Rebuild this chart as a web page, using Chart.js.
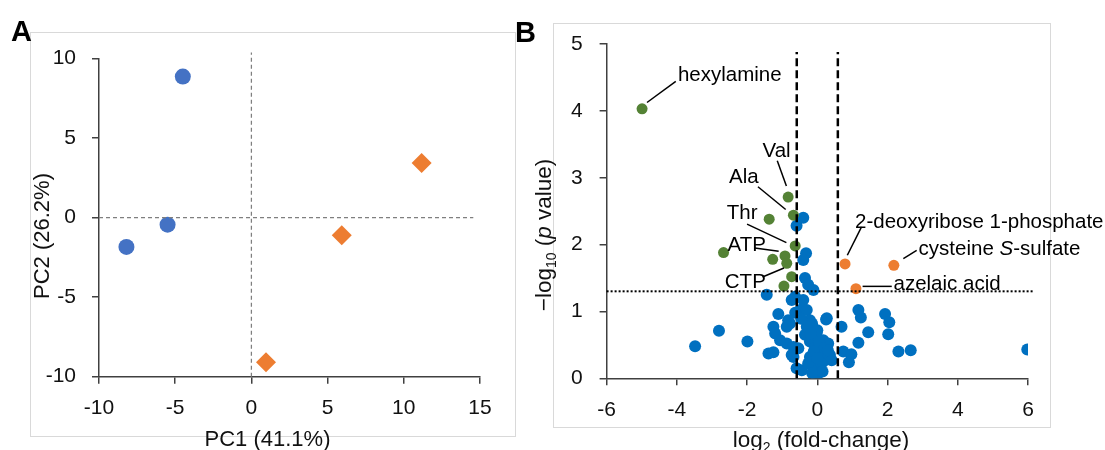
<!DOCTYPE html>
<html>
<head>
<meta charset="utf-8">
<script src="https://cdn.jsdelivr.net/npm/chart.js@4.4.1/dist/chart.umd.min.js"></script>
<style>
html, body { margin: 0; padding: 0; background: #fff; }
body { width: 1105px; height: 450px; position: relative; overflow: hidden; }
canvas { position: absolute; top: 0; }
#pcaCanvas { left: 0; }
#volcanoCanvas { left: 500px; }
</style>
</head>
<body>
<canvas id="pcaCanvas" width="545" height="450"></canvas>
<canvas id="volcanoCanvas" width="605" height="450"></canvas>
<script>
// ---- Panel A: PCA scores ----
const pcaXTicks = [-10, -5, 0, 5, 10, 15];
const pcaYTicks = [-10, -5, 0, 5, 10];
const ctrlPC1 = [-4.5, -5.5, -8.2];
const ctrlPC2 = [8.85, -0.45, -1.85];
const treatPC1 = [11.17, 5.93, 0.96];
const treatPC2 = [3.42, -1.12, -9.1];
// dashed zero lines
const pcaVLineX = [0, 0];
const pcaVLineY = [-10, 10.37];
const pcaHLineX = [-10, 14.56];
const pcaHLineY = [0, 0];

// ---- Panel B: volcano plot ----
const volXTicks = [-6, -4, -2, 0, 2, 4, 6];
const volYTicks = [0, 1, 2, 3, 4, 5];
const blueFC = [-0.40, -0.59, -0.32, -0.40, -0.35, -0.26, -0.11, -1.44, -0.63, -0.73, -0.40, -0.49, -0.30, -1.11, -0.63,
    0.27, -0.21, -0.83, -0.78, -0.87, -1.25, 0.69, -0.11, -2.80, -1.20, -0.02, -0.35, 0.17, -1.06, -0.21, -1.99, 0.31,
    -0.87, 1.17, -0.54, -0.06, -0.68, -3.48, 0.08, -1.39, -1.25, 0.36, -0.68, -0.21, 0.22, 0.41, 0.74, 0.97, 0.90,
    -0.73, -0.59, -0.44, -0.06, -0.02, 0.12, -0.26, 1.17, 1.24, 1.45, 1.93, 2.05, 2.02, 2.31, 2.66, 5.98,
    0.05, 0.20, -0.10, 0.15, -0.15, 0.30, 0.00, 0.00, 0.25, -0.15, -0.30, -0.19, -0.46];
const blueP = [2.40, 2.28, 1.87, 1.77, 1.50, 1.40, 1.32, 1.25, 1.22, 1.17, 1.17, 1.02, 1.02, 0.96, 0.98,
    0.90, 0.87, 0.87, 0.82, 0.77, 0.77, 0.77, 0.75, 0.71, 0.67, 0.67, 0.65, 0.57, 0.57, 0.55, 0.55, 0.52,
    0.52, 0.53, 0.45, 0.47, 0.47, 0.48, 0.40, 0.37, 0.39, 0.35, 0.32, 0.32, 0.27, 0.27, 0.40, 0.36, 0.24,
    0.35, 0.15, 0.12, 0.15, 0.02, 0.22, 0.22, 1.02, 0.91, 0.69, 0.96, 0.84, 0.66, 0.40, 0.42, 0.43,
    0.55, 0.45, 0.40, 0.10, 0.08, 0.42, 0.30, 0.72, 0.88, 0.82, 0.77, 0.67, 0.89];
const downFC = [-4.99, -0.83, -0.68, -1.37, -0.63, -2.67, -0.92, -1.27, -0.87, -0.73, -0.95];
const downP = [4.03, 2.71, 2.44, 2.38, 1.98, 1.88, 1.83, 1.78, 1.72, 1.52, 1.38];
const upFC = [0.79, 2.18, 1.10];
const upP = [1.71, 1.69, 1.34];
// cut-offs: 1.5-fold change and p = 0.05
const fcCutLeftX = [-0.585, -0.585];
const fcCutRightX = [0.585, 0.585];
const fcCutY = [0, 4.88];
const pCutX = [-6, 6.15];
const pCutY = [1.301, 1.301];

const FONT = '"Liberation Sans", Arial, sans-serif';
const pts = (xs, ys) => xs.map((x, i) => ({ x: x, y: ys[i] }));

// labels on the volcano plot (text anchor and leader line in data units)
const volcanoNotes = [
    { parts: [{ t: 'hexylamine' }], at: [-3.97, 4.525], align: 'left', line: [-4.85, 4.125, -4.03, 4.44] },
    { parts: [{ t: 'Val' }], at: [-1.16, 3.39], align: 'center', line: [-1.14, 3.255, -0.88, 2.875] },
    { parts: [{ t: 'Ala' }], at: [-2.09, 3.005], align: 'center', line: [-1.69, 2.865, -0.90, 2.525] },
    { parts: [{ t: 'Thr' }], at: [-2.14, 2.465], align: 'center', line: [-2.0, 2.305, -0.88, 2.03] },
    { parts: [{ t: 'ATP' }], at: [-2.01, 1.99], align: 'center', line: [-1.78, 1.95, -1.10, 1.90] },
    { parts: [{ t: 'CTP' }], at: [-2.05, 1.44], align: 'center', line: [-1.56, 1.515, -0.95, 1.65] },
    { parts: [{ t: '2-deoxyribose 1-phosphate' }], at: [1.075, 2.34], align: 'left', line: [1.26, 2.265, 0.855, 1.84] },
    { parts: [{ t: 'cysteine ' }, { t: 'S', i: true }, { t: '-sulfate' }], at: [2.885, 1.925], align: 'left', line: [2.83, 1.915, 2.45, 1.79] },
    { parts: [{ t: 'azelaic acid' }], at: [2.17, 1.40], align: 'left', line: [1.29, 1.375, 2.12, 1.375] }
];

function drawParts(ctx, parts, x, y, size, align) {
    const fontOf = p => (p.i ? 'italic ' : '') + (p.sub ? size * 0.62 : size) + 'px ' + FONT;
    let total = 0;
    parts.forEach(p => { ctx.font = fontOf(p); total += ctx.measureText(p.t).width; });
    let cur = align === 'center' ? x - total / 2 : (align === 'right' ? x - total : x);
    ctx.textAlign = 'left';
    parts.forEach(p => {
        ctx.font = fontOf(p);
        ctx.fillText(p.t, cur, p.sub ? y + size * 0.22 : y);
        cur += ctx.measureText(p.t).width;
    });
}

function rotatedTitle(ctx, parts, x, y, size) {
    ctx.save();
    ctx.translate(x, y);
    ctx.rotate(-Math.PI / 2);
    ctx.textBaseline = 'alphabetic';
    drawParts(ctx, parts, 0, 0, size, 'center');
    ctx.restore();
}

function axis(tickList, pad, fit) {
    return {
        type: 'linear',
        min: tickList[0],
        max: tickList[tickList.length - 1],
        afterBuildTicks: (s) => { s.ticks = tickList.map(v => ({ value: v })); },
        afterFit: fit,
        border: { display: true, color: '#404040', width: 1.5 },
        grid: { drawOnChartArea: false, drawTicks: true, tickLength: 7, color: '#404040', lineWidth: 1.5 },
        ticks: { color: '#111', padding: pad, autoSkip: false, maxRotation: 0, font: { family: FONT, size: 21 } }
    };
}

function refLine(xs, ys, color, width, dash) {
    return { data: pts(xs, ys), showLine: true, pointRadius: 0, borderColor: color, borderWidth: width, borderDash: dash, clip: false, order: 0 };
}

const pcaDecor = {
    id: 'pcaDecor',
    beforeDraw: (chart) => {
        const { ctx } = chart;
        ctx.save();
        ctx.strokeStyle = '#d9d9d9';
        ctx.lineWidth = 1;
        ctx.strokeRect(30.5, 32.5, 485, 404);
        ctx.restore();
    },
    afterDraw: (chart) => {
        const { ctx } = chart;
        ctx.save();
        ctx.fillStyle = '#000';
        ctx.textBaseline = 'alphabetic';
        ctx.font = 'bold 29px ' + FONT;
        ctx.fillText('A', 11, 41);
        ctx.fillStyle = '#111';
        drawParts(ctx, [{ t: 'PC1 (41.1%)' }], 267.5, 446, 22, 'center');
        rotatedTitle(ctx, [{ t: 'PC2 (26.2%)' }], 49, 236, 22);
        ctx.restore();
    }
};

const volcanoDecor = {
    id: 'volcanoDecor',
    beforeDraw: (chart) => {
        const { ctx } = chart;
        ctx.save();
        ctx.strokeStyle = '#d9d9d9';
        ctx.lineWidth = 1;
        ctx.strokeRect(53.5, 23.5, 497, 404);
        ctx.restore();
    },
    afterDatasetsDraw: (chart) => {
        const { ctx, scales } = chart;
        const px = v => scales.x.getPixelForValue(v);
        const py = v => scales.y.getPixelForValue(v);
        ctx.save();
        ctx.strokeStyle = '#000';
        ctx.lineWidth = 1.5;
        ctx.fillStyle = '#000';
        ctx.textBaseline = 'middle';
        volcanoNotes.forEach(n => {
            ctx.beginPath();
            ctx.moveTo(px(n.line[0]), py(n.line[1]));
            ctx.lineTo(px(n.line[2]), py(n.line[3]));
            ctx.stroke();
            drawParts(ctx, n.parts, px(n.at[0]), py(n.at[1]), 20.5, n.align);
        });
        ctx.restore();
    },
    afterDraw: (chart) => {
        const { ctx } = chart;
        ctx.save();
        ctx.fillStyle = '#000';
        ctx.textBaseline = 'alphabetic';
        ctx.font = 'bold 29px ' + FONT;
        ctx.fillText('B', 15, 41.5);
        ctx.fillStyle = '#111';
        drawParts(ctx, [{ t: 'log' }, { t: '2', sub: true }, { t: ' (fold-change)' }], 321, 447, 22.5, 'center');
        rotatedTitle(ctx, [{ t: '\u2212log' }, { t: '10', sub: true }, { t: ' (' }, { t: 'p', i: true }, { t: ' value)' }], 51, 235, 22.5);
        ctx.restore();
    }
};

const baseOptions = (padding, xAxis, yAxis) => ({
    responsive: false,
    animation: false,
    devicePixelRatio: 1,
    events: [],
    layout: { padding: padding },
    plugins: { legend: { display: false }, tooltip: { enabled: false } },
    scales: { x: xAxis, y: yAxis }
});

new Chart(document.getElementById('pcaCanvas').getContext('2d'), {
    type: 'scatter',
    data: {
        datasets: [
            refLine(pcaVLineX, pcaVLineY, '#7f7f7f', 1.25, [4, 3]),
            refLine(pcaHLineX, pcaHLineY, '#7f7f7f', 1.25, [4, 3]),
            { data: pts(ctrlPC1, ctrlPC2), pointStyle: 'circle', pointRadius: 8, backgroundColor: '#4472C4', borderWidth: 0, order: 1 },
            { data: pts(treatPC1, treatPC2), pointStyle: 'rectRot', pointRadius: 10, backgroundColor: '#ED7D31', borderWidth: 0, order: 1 }
        ]
    },
    options: baseOptions(
        { top: 58.3, right: 65, left: 0, bottom: 0 },
        axis(pcaXTicks, 12, (s) => { s.height = 73.3; }),
        axis(pcaYTicks, 16, (s) => { s.width = 99; })
    ),
    plugins: [pcaDecor]
});

new Chart(document.getElementById('volcanoCanvas').getContext('2d'), {
    type: 'scatter',
    data: {
        datasets: [
            refLine(fcCutLeftX, fcCutY, '#000', 2.5, [8, 4]),
            refLine(fcCutRightX, fcCutY, '#000', 2.5, [8, 4]),
            refLine(pCutX, pCutY, '#000', 2, [2, 2]),
            { data: pts(downFC, downP), pointRadius: 5.5, backgroundColor: '#548235', borderWidth: 0, order: 1 },
            { data: pts(upFC, upP), pointRadius: 5.5, backgroundColor: '#ED7D31', borderWidth: 0, order: 1 },
            { data: pts(blueFC, blueP), pointRadius: 6, backgroundColor: '#0070C0', borderWidth: 0, order: 2 }
        ]
    },
    options: baseOptions(
        { top: 44, right: 77, left: 0, bottom: 0 },
        axis(volXTicks, 12, (s) => { s.height = 71.7; }),
        axis(volYTicks, 17, (s) => { s.width = 106.6; })
    ),
    plugins: [volcanoDecor]
});
</script>
</body>
</html>
